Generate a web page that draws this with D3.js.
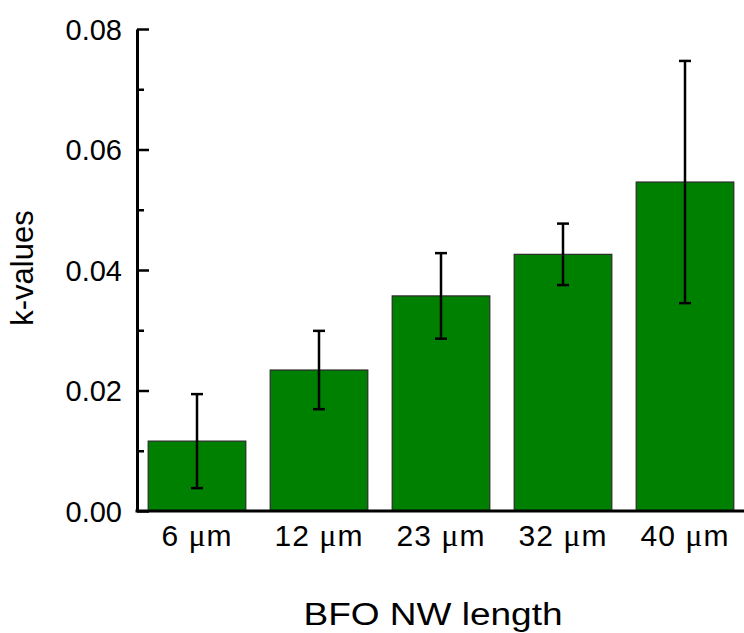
<!DOCTYPE html>
<html>
<head>
<meta charset="utf-8">
<script src="https://cdn.jsdelivr.net/npm/d3@7"></script>
<style>
  html, body { margin: 0; padding: 0; background: #fff; }
  svg { display: block; }
  text { font-family: "Liberation Sans", Arial, sans-serif; fill: #000; }
</style>
</head>
<body>
<svg id="chart" width="744" height="633"></svg>
<script>
// Nanowire lengths (µm) and the fitted k-values with their uncertainties
const lengths = ["6", "12", "23", "32", "40"];
const kValues = [0.0116, 0.0234, 0.0357, 0.0426, 0.0546];
const kErrors = [0.0078, 0.0065, 0.0071, 0.0051, 0.0201];
const majorTicks = [0.00, 0.02, 0.04, 0.06, 0.08];
const minorTicks = [0.01, 0.03, 0.05, 0.07];

const svg = d3.select("#chart");
const axisX = 137, baseY = 511, topY = 29, rightX = 744;

const x = d3.scaleBand()
  .domain(lengths)
  .range([axisX - 1, 746])
  .paddingInner(0.2)
  .paddingOuter(0.1);

const y = d3.scaleLinear()
  .domain([0, 0.08])
  .range([baseY, topY]);

// Bars
svg.append("g")
  .selectAll("rect")
  .data(lengths)
  .join("rect")
  .attr("x", d => x(d))
  .attr("y", (d, i) => y(kValues[i]))
  .attr("width", x.bandwidth())
  .attr("height", (d, i) => y(0) - y(kValues[i]))
  .attr("fill", "#008000")
  .attr("stroke", "#2a2a2a")
  .attr("stroke-width", 1.2);

// Error bars
const err = svg.append("g")
  .attr("stroke", "#000")
  .attr("stroke-width", 2.5)
  .selectAll("g")
  .data(lengths)
  .join("g")
  .attr("transform", d => `translate(${x(d) + x.bandwidth() / 2},0)`);
err.append("line")
  .attr("y1", (d, i) => y(kValues[i] + kErrors[i]))
  .attr("y2", (d, i) => y(kValues[i] - kErrors[i]));
err.append("line")
  .attr("x1", -6).attr("x2", 6)
  .attr("y1", (d, i) => y(kValues[i] + kErrors[i]))
  .attr("y2", (d, i) => y(kValues[i] + kErrors[i]));
err.append("line")
  .attr("x1", -6).attr("x2", 6)
  .attr("y1", (d, i) => y(kValues[i] - kErrors[i]))
  .attr("y2", (d, i) => y(kValues[i] - kErrors[i]));

// Y axis: major ticks with labels, pointing inward
const yAxis = svg.append("g")
  .attr("transform", `translate(${axisX},0)`)
  .call(d3.axisLeft(y)
    .tickValues(majorTicks)
    .tickFormat(d3.format(".2f"))
    .tickSizeInner(-12)
    .tickSizeOuter(0)
    .tickPadding(15));
yAxis.select(".domain").attr("stroke-width", 3);
yAxis.selectAll(".tick line").attr("stroke-width", 2.5);
yAxis.selectAll(".tick text")
  .style("font-size", "29px")
  .attr("dy", "0.36em");

// Y axis minor ticks
const yMinor = svg.append("g")
  .attr("transform", `translate(${axisX},0)`)
  .call(d3.axisLeft(y)
    .tickValues(minorTicks)
    .tickFormat("")
    .tickSizeInner(-7)
    .tickSizeOuter(0));
yMinor.select(".domain").remove();
yMinor.selectAll(".tick line").attr("stroke-width", 2.5);

// X axis baseline
svg.append("line")
  .attr("x1", axisX - 1.5).attr("x2", rightX)
  .attr("y1", y(0)).attr("y2", y(0))
  .attr("stroke", "#000")
  .attr("stroke-width", 3);

// Category labels with a serif micro sign
const xl = svg.append("g")
  .selectAll("text")
  .data(lengths)
  .join("text")
  .attr("x", d => x(d) + x.bandwidth() / 2)
  .attr("y", baseY + 35)
  .attr("text-anchor", "middle")
  .style("font-size", "30px")
  .style("letter-spacing", "1px");
xl.append("tspan").text(d => d + " ");
xl.append("tspan")
  .style("font-family", "'Liberation Serif', 'Times New Roman', serif")
  .style("font-size", "32px")
  .text("\u03bc");
xl.append("tspan").text("m");

// Axis titles
svg.append("text")
  .attr("x", 433)
  .attr("y", 625)
  .attr("text-anchor", "middle")
  .attr("textLength", 259)
  .attr("lengthAdjust", "spacingAndGlyphs")
  .style("font-size", "31px")
  .text("BFO NW length");

svg.append("text")
  .attr("transform", "translate(33,268) rotate(-90)")
  .attr("text-anchor", "middle")
  .style("font-size", "31px")
  .text("k-values");
</script>
</body>
</html>
